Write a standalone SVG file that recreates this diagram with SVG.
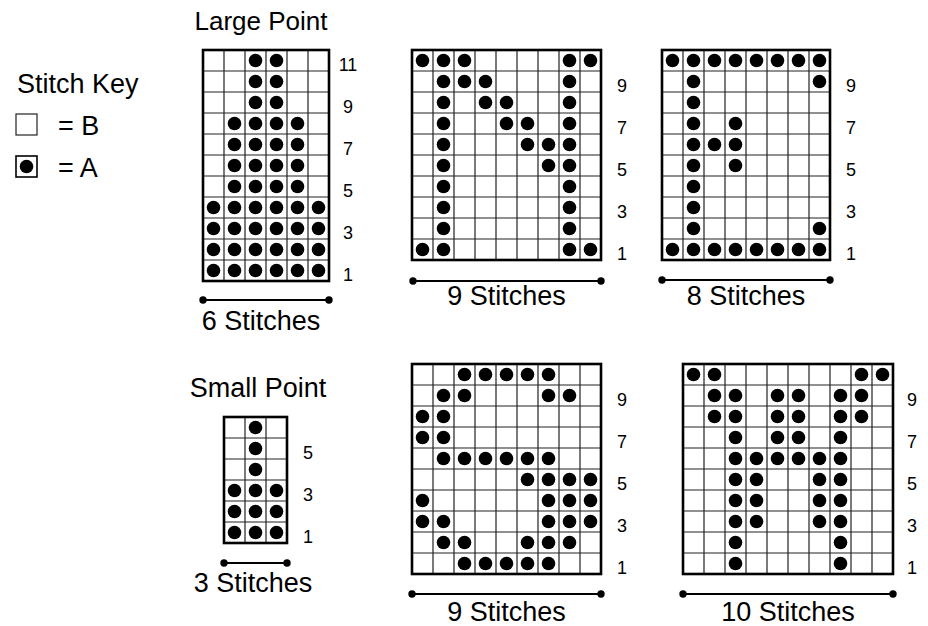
<svg xmlns="http://www.w3.org/2000/svg" width="928" height="626" viewBox="0 0 928 626">
<style>
text{font-family:"Liberation Sans",Arial,sans-serif;fill:#000}
.t{font-size:27px}
.lp{font-size:26px}
.n{font-size:18px;text-anchor:middle}
.c{text-anchor:middle}
.g{fill:none;stroke:#222;stroke-width:1.2}
.o{fill:none;stroke:#000;stroke-width:2.6}
.d{fill:#000}
.dl{stroke:#000;stroke-width:2.2;fill:none}
</style>
<defs>
<circle id="d" r="6.8" class="d"/>
<circle id="e" r="3.7" class="d"/>
</defs>
<rect width="928" height="626" fill="#fff"/>

<g id="stitch-key">
<text class="t" x="17" y="93">Stitch Key</text>
<rect x="16" y="114" width="21" height="21" fill="#fff" stroke="#222" stroke-width="1.2"/>
<text class="t" x="58" y="135">= B</text>
<rect x="16" y="156" width="21" height="21" fill="#fff" stroke="#000" stroke-width="1.6"/>
<use href="#d" x="26.5" y="166.5"/>
<text class="t" x="58" y="177">= A</text>
</g>

<g id="large-point">
<text class="lp c" x="261" y="30">Large Point</text>
<path class="g" d="M224 50V281M245 50V281M266 50V281M287 50V281M308 50V281M203 71H329M203 92H329M203 113H329M203 134H329M203 155H329M203 176H329M203 197H329M203 218H329M203 239H329M203 260H329"/>
<rect class="o" x="203" y="50" width="126" height="231"/>
<g>
<use href="#d" x="255.5" y="60.5"/><use href="#d" x="276.5" y="60.5"/>
<use href="#d" x="255.5" y="81.5"/><use href="#d" x="276.5" y="81.5"/>
<use href="#d" x="255.5" y="102.5"/><use href="#d" x="276.5" y="102.5"/>
<use href="#d" x="234.5" y="123.5"/><use href="#d" x="255.5" y="123.5"/><use href="#d" x="276.5" y="123.5"/><use href="#d" x="297.5" y="123.5"/>
<use href="#d" x="234.5" y="144.5"/><use href="#d" x="255.5" y="144.5"/><use href="#d" x="276.5" y="144.5"/><use href="#d" x="297.5" y="144.5"/>
<use href="#d" x="234.5" y="165.5"/><use href="#d" x="255.5" y="165.5"/><use href="#d" x="276.5" y="165.5"/><use href="#d" x="297.5" y="165.5"/>
<use href="#d" x="234.5" y="186.5"/><use href="#d" x="255.5" y="186.5"/><use href="#d" x="276.5" y="186.5"/><use href="#d" x="297.5" y="186.5"/>
<use href="#d" x="213.5" y="207.5"/><use href="#d" x="234.5" y="207.5"/><use href="#d" x="255.5" y="207.5"/><use href="#d" x="276.5" y="207.5"/><use href="#d" x="297.5" y="207.5"/><use href="#d" x="318.5" y="207.5"/>
<use href="#d" x="213.5" y="228.5"/><use href="#d" x="234.5" y="228.5"/><use href="#d" x="255.5" y="228.5"/><use href="#d" x="276.5" y="228.5"/><use href="#d" x="297.5" y="228.5"/><use href="#d" x="318.5" y="228.5"/>
<use href="#d" x="213.5" y="249.5"/><use href="#d" x="234.5" y="249.5"/><use href="#d" x="255.5" y="249.5"/><use href="#d" x="276.5" y="249.5"/><use href="#d" x="297.5" y="249.5"/><use href="#d" x="318.5" y="249.5"/>
<use href="#d" x="213.5" y="270.5"/><use href="#d" x="234.5" y="270.5"/><use href="#d" x="255.5" y="270.5"/><use href="#d" x="276.5" y="270.5"/><use href="#d" x="297.5" y="270.5"/><use href="#d" x="318.5" y="270.5"/>
</g>
<text class="n" x="348" y="71">11</text><text class="n" x="348" y="113">9</text><text class="n" x="348" y="155">7</text><text class="n" x="348" y="197">5</text><text class="n" x="348" y="239">3</text><text class="n" x="348" y="281">1</text>
<text class="t c" x="261" y="330">6 Stitches</text>
</g>

<g id="chart-n">
<path class="g" d="M433 50V260M454 50V260M475 50V260M496 50V260M517 50V260M538 50V260M559 50V260M580 50V260M412 71H601M412 92H601M412 113H601M412 134H601M412 155H601M412 176H601M412 197H601M412 218H601M412 239H601"/>
<rect class="o" x="412" y="50" width="189" height="210"/>
<g>
<use href="#d" x="422.5" y="60.5"/><use href="#d" x="443.5" y="60.5"/><use href="#d" x="464.5" y="60.5"/><use href="#d" x="569.5" y="60.5"/><use href="#d" x="590.5" y="60.5"/>
<use href="#d" x="443.5" y="81.5"/><use href="#d" x="464.5" y="81.5"/><use href="#d" x="485.5" y="81.5"/><use href="#d" x="569.5" y="81.5"/>
<use href="#d" x="443.5" y="102.5"/><use href="#d" x="485.5" y="102.5"/><use href="#d" x="506.5" y="102.5"/><use href="#d" x="569.5" y="102.5"/>
<use href="#d" x="443.5" y="123.5"/><use href="#d" x="506.5" y="123.5"/><use href="#d" x="527.5" y="123.5"/><use href="#d" x="569.5" y="123.5"/>
<use href="#d" x="443.5" y="144.5"/><use href="#d" x="527.5" y="144.5"/><use href="#d" x="548.5" y="144.5"/><use href="#d" x="569.5" y="144.5"/>
<use href="#d" x="443.5" y="165.5"/><use href="#d" x="548.5" y="165.5"/><use href="#d" x="569.5" y="165.5"/>
<use href="#d" x="443.5" y="186.5"/><use href="#d" x="569.5" y="186.5"/>
<use href="#d" x="443.5" y="207.5"/><use href="#d" x="569.5" y="207.5"/>
<use href="#d" x="443.5" y="228.5"/><use href="#d" x="569.5" y="228.5"/>
<use href="#d" x="422.5" y="249.5"/><use href="#d" x="443.5" y="249.5"/><use href="#d" x="569.5" y="249.5"/><use href="#d" x="590.5" y="249.5"/>
</g>
<text class="n" x="622" y="92">9</text><text class="n" x="622" y="134">7</text><text class="n" x="622" y="176">5</text><text class="n" x="622" y="218">3</text><text class="n" x="622" y="260">1</text>
<text class="t c" x="506.5" y="305">9 Stitches</text>
</g>

<g id="chart-e">
<path class="g" d="M683 50V260M704 50V260M725 50V260M746 50V260M767 50V260M788 50V260M809 50V260M662 71H830M662 92H830M662 113H830M662 134H830M662 155H830M662 176H830M662 197H830M662 218H830M662 239H830"/>
<rect class="o" x="662" y="50" width="168" height="210"/>
<g>
<use href="#d" x="672.5" y="60.5"/><use href="#d" x="693.5" y="60.5"/><use href="#d" x="714.5" y="60.5"/><use href="#d" x="735.5" y="60.5"/><use href="#d" x="756.5" y="60.5"/><use href="#d" x="777.5" y="60.5"/><use href="#d" x="798.5" y="60.5"/><use href="#d" x="819.5" y="60.5"/>
<use href="#d" x="693.5" y="81.5"/><use href="#d" x="819.5" y="81.5"/>
<use href="#d" x="693.5" y="102.5"/>
<use href="#d" x="693.5" y="123.5"/><use href="#d" x="735.5" y="123.5"/>
<use href="#d" x="693.5" y="144.5"/><use href="#d" x="714.5" y="144.5"/><use href="#d" x="735.5" y="144.5"/>
<use href="#d" x="693.5" y="165.5"/><use href="#d" x="735.5" y="165.5"/>
<use href="#d" x="693.5" y="186.5"/>
<use href="#d" x="693.5" y="207.5"/>
<use href="#d" x="693.5" y="228.5"/><use href="#d" x="819.5" y="228.5"/>
<use href="#d" x="672.5" y="249.5"/><use href="#d" x="693.5" y="249.5"/><use href="#d" x="714.5" y="249.5"/><use href="#d" x="735.5" y="249.5"/><use href="#d" x="756.5" y="249.5"/><use href="#d" x="777.5" y="249.5"/><use href="#d" x="798.5" y="249.5"/><use href="#d" x="819.5" y="249.5"/>
</g>
<text class="n" x="851" y="92">9</text><text class="n" x="851" y="134">7</text><text class="n" x="851" y="176">5</text><text class="n" x="851" y="218">3</text><text class="n" x="851" y="260">1</text>
<text class="t c" x="746" y="305">8 Stitches</text>
</g>

<g id="small-point">
<text class="t c" x="258" y="397">Small Point</text>
<path class="g" d="M245 417V543M266 417V543M224 438H287M224 459H287M224 480H287M224 501H287M224 522H287"/>
<rect class="o" x="224" y="417" width="63" height="126"/>
<g>
<use href="#d" x="255.5" y="427.5"/>
<use href="#d" x="255.5" y="448.5"/>
<use href="#d" x="255.5" y="469.5"/>
<use href="#d" x="234.5" y="490.5"/><use href="#d" x="255.5" y="490.5"/><use href="#d" x="276.5" y="490.5"/>
<use href="#d" x="234.5" y="511.5"/><use href="#d" x="255.5" y="511.5"/><use href="#d" x="276.5" y="511.5"/>
<use href="#d" x="234.5" y="532.5"/><use href="#d" x="255.5" y="532.5"/><use href="#d" x="276.5" y="532.5"/>
</g>
<text class="n" x="308" y="459">5</text><text class="n" x="308" y="501">3</text><text class="n" x="308" y="543">1</text>
<text class="t c" x="253" y="592">3 Stitches</text>
</g>

<g id="chart-s">
<path class="g" d="M433 364V574M454 364V574M475 364V574M496 364V574M517 364V574M538 364V574M559 364V574M580 364V574M412 385H601M412 406H601M412 427H601M412 448H601M412 469H601M412 490H601M412 511H601M412 532H601M412 553H601"/>
<rect class="o" x="412" y="364" width="189" height="210"/>
<g>
<use href="#d" x="464.5" y="374.5"/><use href="#d" x="485.5" y="374.5"/><use href="#d" x="506.5" y="374.5"/><use href="#d" x="527.5" y="374.5"/><use href="#d" x="548.5" y="374.5"/>
<use href="#d" x="443.5" y="395.5"/><use href="#d" x="464.5" y="395.5"/><use href="#d" x="548.5" y="395.5"/><use href="#d" x="569.5" y="395.5"/>
<use href="#d" x="422.5" y="416.5"/><use href="#d" x="443.5" y="416.5"/>
<use href="#d" x="422.5" y="437.5"/><use href="#d" x="443.5" y="437.5"/>
<use href="#d" x="443.5" y="458.5"/><use href="#d" x="464.5" y="458.5"/><use href="#d" x="485.5" y="458.5"/><use href="#d" x="506.5" y="458.5"/><use href="#d" x="527.5" y="458.5"/><use href="#d" x="548.5" y="458.5"/>
<use href="#d" x="527.5" y="479.5"/><use href="#d" x="548.5" y="479.5"/><use href="#d" x="569.5" y="479.5"/><use href="#d" x="590.5" y="479.5"/>
<use href="#d" x="422.5" y="500.5"/><use href="#d" x="548.5" y="500.5"/><use href="#d" x="569.5" y="500.5"/><use href="#d" x="590.5" y="500.5"/>
<use href="#d" x="422.5" y="521.5"/><use href="#d" x="443.5" y="521.5"/><use href="#d" x="548.5" y="521.5"/><use href="#d" x="569.5" y="521.5"/><use href="#d" x="590.5" y="521.5"/>
<use href="#d" x="443.5" y="542.5"/><use href="#d" x="464.5" y="542.5"/><use href="#d" x="527.5" y="542.5"/><use href="#d" x="548.5" y="542.5"/><use href="#d" x="569.5" y="542.5"/>
<use href="#d" x="464.5" y="563.5"/><use href="#d" x="485.5" y="563.5"/><use href="#d" x="506.5" y="563.5"/><use href="#d" x="527.5" y="563.5"/><use href="#d" x="548.5" y="563.5"/>
</g>
<text class="n" x="622" y="406">9</text><text class="n" x="622" y="448">7</text><text class="n" x="622" y="490">5</text><text class="n" x="622" y="532">3</text><text class="n" x="622" y="574">1</text>
<text class="t c" x="506.5" y="621">9 Stitches</text>
</g>

<g id="chart-w">
<path class="g" d="M704 364V574M725 364V574M746 364V574M767 364V574M788 364V574M809 364V574M830 364V574M851 364V574M872 364V574M683 385H893M683 406H893M683 427H893M683 448H893M683 469H893M683 490H893M683 511H893M683 532H893M683 553H893"/>
<rect class="o" x="683" y="364" width="210" height="210"/>
<g>
<use href="#d" x="693.5" y="374.5"/><use href="#d" x="714.5" y="374.5"/><use href="#d" x="861.5" y="374.5"/><use href="#d" x="882.5" y="374.5"/>
<use href="#d" x="714.5" y="395.5"/><use href="#d" x="735.5" y="395.5"/><use href="#d" x="777.5" y="395.5"/><use href="#d" x="798.5" y="395.5"/><use href="#d" x="840.5" y="395.5"/><use href="#d" x="861.5" y="395.5"/>
<use href="#d" x="714.5" y="416.5"/><use href="#d" x="735.5" y="416.5"/><use href="#d" x="777.5" y="416.5"/><use href="#d" x="798.5" y="416.5"/><use href="#d" x="840.5" y="416.5"/><use href="#d" x="861.5" y="416.5"/>
<use href="#d" x="735.5" y="437.5"/><use href="#d" x="777.5" y="437.5"/><use href="#d" x="798.5" y="437.5"/><use href="#d" x="840.5" y="437.5"/>
<use href="#d" x="735.5" y="458.5"/><use href="#d" x="756.5" y="458.5"/><use href="#d" x="777.5" y="458.5"/><use href="#d" x="798.5" y="458.5"/><use href="#d" x="819.5" y="458.5"/><use href="#d" x="840.5" y="458.5"/>
<use href="#d" x="735.5" y="479.5"/><use href="#d" x="756.5" y="479.5"/><use href="#d" x="819.5" y="479.5"/><use href="#d" x="840.5" y="479.5"/>
<use href="#d" x="735.5" y="500.5"/><use href="#d" x="756.5" y="500.5"/><use href="#d" x="819.5" y="500.5"/><use href="#d" x="840.5" y="500.5"/>
<use href="#d" x="735.5" y="521.5"/><use href="#d" x="756.5" y="521.5"/><use href="#d" x="819.5" y="521.5"/><use href="#d" x="840.5" y="521.5"/>
<use href="#d" x="735.5" y="542.5"/><use href="#d" x="840.5" y="542.5"/>
<use href="#d" x="735.5" y="563.5"/><use href="#d" x="840.5" y="563.5"/>
</g>
<text class="n" x="912" y="406">9</text><text class="n" x="912" y="448">7</text><text class="n" x="912" y="490">5</text><text class="n" x="912" y="532">3</text><text class="n" x="912" y="574">1</text>
<text class="t c" x="788" y="621">10 Stitches</text>
</g>

<g id="connectors">
<path class="dl" d="M203 300H329"/><use href="#e" x="203" y="300"/><use href="#e" x="329" y="300"/>
<path class="dl" d="M413 281H601"/><use href="#e" x="413" y="281"/><use href="#e" x="601" y="281"/>
<path class="dl" d="M662 280H830"/><use href="#e" x="662" y="280"/><use href="#e" x="830" y="280"/>
<path class="dl" d="M224 563H287"/><use href="#e" x="224" y="563"/><use href="#e" x="287" y="563"/>
<path class="dl" d="M412 594H601"/><use href="#e" x="412" y="594"/><use href="#e" x="601" y="594"/>
<path class="dl" d="M683 594H893"/><use href="#e" x="683" y="594"/><use href="#e" x="893" y="594"/>
</g>
</svg>
